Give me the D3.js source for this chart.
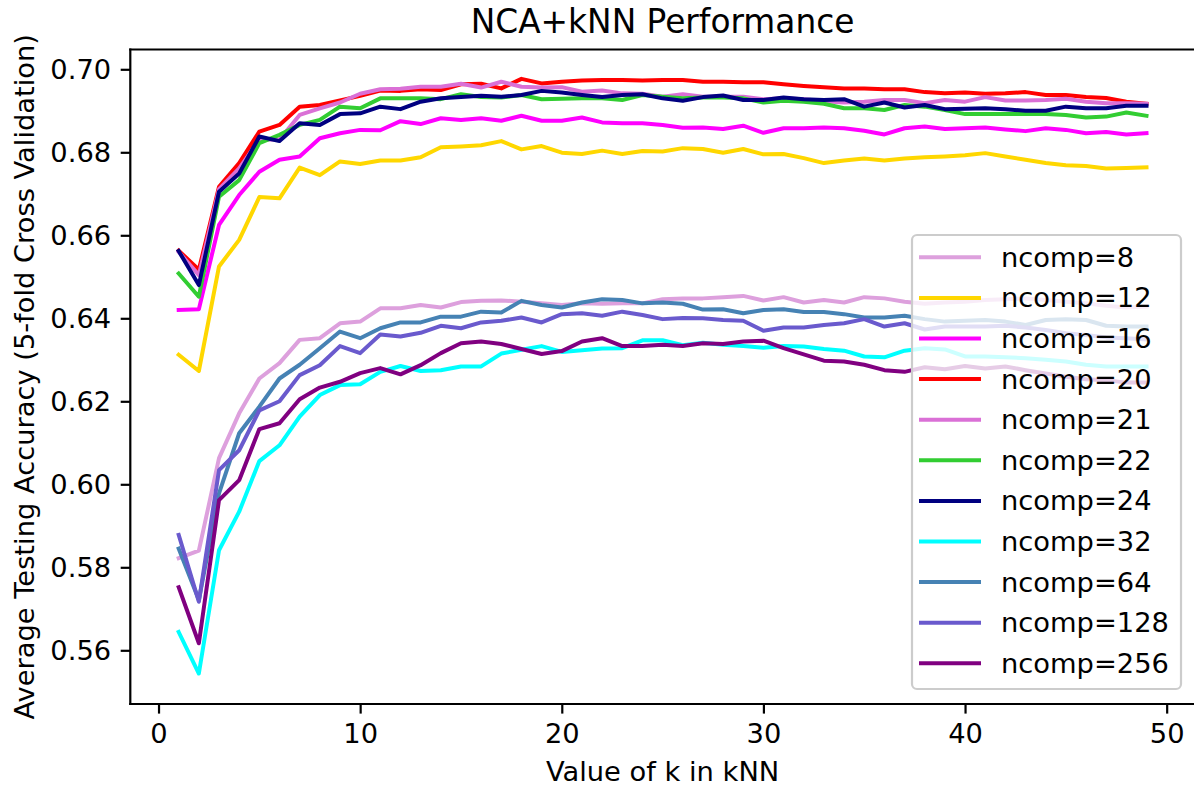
<!DOCTYPE html>
<meta http-equiv="Content-type" content="text/html; charset=UTF-8"/>
<svg width="1194" height="787"></svg>
<script src="https://d3js.org/d3.v7.min.js"></script>
<style>
  body { margin: 0; background: #fff; }
  svg { display: block; }
  text { font-family: 'DejaVu Sans', sans-serif; fill: #000; }
</style>
<script>
// k values on the x axis
var ks = [1,2,3,4,5,6,7,8,9,10,11,12,13,14,15,16,17,18,19,20,21,22,23,24,25,
          26,27,28,29,30,31,32,33,34,35,36,37,38,39,40,41,42,43,44,45,46,47,48,49];

// mean 5-fold CV accuracy, one array per NCA component count
var ncomp8 = [0.5822,0.5840,0.6063,0.6171,0.6255,0.6292,0.6348,0.6352,0.6388,0.6392,
  0.6424,0.6424,0.6432,0.6426,0.6439,0.6442,0.6443,0.6440,0.6436,0.6432,
  0.6436,0.6435,0.6436,0.6436,0.6446,0.6448,0.6448,0.6451,0.6454,0.6443,
  0.6451,0.6438,0.6444,0.6438,0.6451,0.6448,0.6440,0.6435,0.6438,0.6440,
  0.6444,0.6446,0.6448,0.6444,0.6440,0.6436,0.6430,0.6426,0.6428];
var ncomp12 = [0.6312,0.6273,0.6525,0.6589,0.6692,0.6689,0.6763,0.6745,0.6778,0.6772,
  0.6780,0.6780,0.6788,0.6812,0.6814,0.6817,0.6827,0.6807,0.6815,0.6799,
  0.6796,0.6804,0.6796,0.6803,0.6802,0.6810,0.6808,0.6799,0.6808,0.6795,
  0.6796,0.6786,0.6774,0.6780,0.6785,0.6780,0.6785,0.6788,0.6790,0.6793,
  0.6798,0.6790,0.6782,0.6774,0.6769,0.6767,0.6761,0.6762,0.6764];
var ncomp16 = [0.6420,0.6422,0.6625,0.6697,0.6753,0.6782,0.6790,0.6834,0.6846,0.6854,
  0.6853,0.6875,0.6868,0.6882,0.6878,0.6882,0.6876,0.6888,0.6876,0.6876,
  0.6884,0.6872,0.6870,0.6870,0.6866,0.6859,0.6860,0.6856,0.6864,0.6847,
  0.6858,0.6858,0.6860,0.6858,0.6852,0.6843,0.6858,0.6862,0.6856,0.6858,
  0.6860,0.6855,0.6851,0.6858,0.6854,0.6846,0.6849,0.6843,0.6846];
var ncomp20 = [0.6563,0.6517,0.6717,0.6774,0.6850,0.6866,0.6910,0.6914,0.6925,0.6936,
  0.6949,0.6948,0.6952,0.6950,0.6964,0.6965,0.6954,0.6977,0.6966,0.6970,
  0.6973,0.6974,0.6974,0.6973,0.6974,0.6974,0.6970,0.6970,0.6969,0.6969,
  0.6964,0.6960,0.6957,0.6954,0.6954,0.6952,0.6952,0.6945,0.6942,0.6944,
  0.6941,0.6942,0.6945,0.6938,0.6938,0.6933,0.6931,0.6922,0.6917];
var ncomp21 = [0.6560,0.6504,0.6711,0.6761,0.6830,0.6831,0.6890,0.6906,0.6920,0.6941,
  0.6952,0.6953,0.6958,0.6958,0.6965,0.6956,0.6970,0.6958,0.6956,0.6957,
  0.6946,0.6949,0.6942,0.6941,0.6934,0.6940,0.6934,0.6934,0.6934,0.6928,
  0.6930,0.6928,0.6923,0.6920,0.6922,0.6926,0.6926,0.6918,0.6926,0.6922,
  0.6933,0.6925,0.6925,0.6926,0.6929,0.6922,0.6918,0.6918,0.6917];
var ncomp22 = [0.6508,0.6452,0.6693,0.6733,0.6822,0.6842,0.6866,0.6878,0.6910,0.6906,
  0.6930,0.6930,0.6930,0.6928,0.6940,0.6933,0.6932,0.6938,0.6928,0.6929,
  0.6930,0.6930,0.6926,0.6938,0.6934,0.6930,0.6932,0.6932,0.6930,0.6920,
  0.6924,0.6922,0.6917,0.6906,0.6906,0.6902,0.6914,0.6910,0.6902,0.6892,
  0.6892,0.6892,0.6892,0.6892,0.6890,0.6884,0.6886,0.6896,0.6888];
var ncomp24 = [0.6562,0.6480,0.6705,0.6749,0.6838,0.6827,0.6870,0.6866,0.6892,0.6894,
  0.6910,0.6904,0.6922,0.6930,0.6933,0.6936,0.6934,0.6938,0.6948,0.6944,
  0.6938,0.6933,0.6938,0.6940,0.6930,0.6924,0.6933,0.6937,0.6926,0.6926,
  0.6932,0.6928,0.6926,0.6928,0.6910,0.6920,0.6908,0.6914,0.6904,0.6905,
  0.6906,0.6904,0.6900,0.6900,0.6910,0.6906,0.6906,0.6912,0.6912];
var ncomp32 = [0.5644,0.5544,0.5841,0.5934,0.6056,0.6094,0.6163,0.6215,0.6239,0.6241,
  0.6271,0.6285,0.6273,0.6275,0.6284,0.6284,0.6315,0.6324,0.6333,0.6319,
  0.6323,0.6327,0.6328,0.6347,0.6347,0.6335,0.6341,0.6336,0.6333,0.6329,
  0.6333,0.6332,0.6326,0.6322,0.6308,0.6306,0.6322,0.6328,0.6325,0.6308,
  0.6308,0.6306,0.6304,0.6300,0.6296,0.6288,0.6284,0.6284,0.6284];
var ncomp64 = [0.5845,0.5721,0.5978,0.6123,0.6187,0.6255,0.6288,0.6328,0.6368,0.6352,
  0.6376,0.6390,0.6390,0.6404,0.6404,0.6416,0.6414,0.6442,0.6432,0.6426,
  0.6438,0.6446,0.6444,0.6436,0.6438,0.6435,0.6421,0.6422,0.6412,0.6420,
  0.6422,0.6415,0.6415,0.6410,0.6402,0.6402,0.6406,0.6398,0.6392,0.6394,
  0.6396,0.6392,0.6384,0.6396,0.6398,0.6396,0.6382,0.6380,0.6380];
var ncomp128 = [0.5878,0.5717,0.6034,0.6082,0.6178,0.6200,0.6263,0.6287,0.6333,0.6316,
  0.6361,0.6356,0.6365,0.6382,0.6376,0.6390,0.6394,0.6402,0.6390,0.6410,
  0.6412,0.6406,0.6416,0.6408,0.6398,0.6401,0.6400,0.6396,0.6394,0.6370,
  0.6378,0.6378,0.6384,0.6388,0.6398,0.6380,0.6388,0.6373,0.6380,0.6380,
  0.6380,0.6382,0.6378,0.6372,0.6364,0.6360,0.6354,0.6352,0.6349];
var ncomp256 = [0.5752,0.5617,0.5962,0.6010,0.6133,0.6147,0.6205,0.6233,0.6247,0.6268,
  0.6280,0.6265,0.6287,0.6316,0.6340,0.6344,0.6338,0.6326,0.6314,0.6321,
  0.6344,0.6352,0.6333,0.6333,0.6336,0.6333,0.6340,0.6338,0.6344,0.6346,
  0.6328,0.6313,0.6298,0.6296,0.6288,0.6275,0.6271,0.6282,0.6277,0.6285,
  0.6279,0.6284,0.6275,0.6267,0.6259,0.6253,0.6251,0.6245,0.6245];

var seriesLabels = ["ncomp=8","ncomp=12","ncomp=16","ncomp=20","ncomp=21","ncomp=22",
                    "ncomp=24","ncomp=32","ncomp=64","ncomp=128","ncomp=256"];
var seriesValues = [ncomp8, ncomp12, ncomp16, ncomp20, ncomp21, ncomp22,
                    ncomp24, ncomp32, ncomp64, ncomp128, ncomp256];
var seriesColors = ["plum","gold","magenta","red","orchid","limegreen",
                    "navy","cyan","steelblue","slateblue","purple"];

var xTicks = [0, 10, 20, 30, 40, 50];
var yTicks = [0.56, 0.58, 0.60, 0.62, 0.64, 0.66, 0.68, 0.70];

var svg = d3.select("svg"),
    plotL = 130.3, plotR = 1194.9, plotT = 49.5, plotB = 704,
    fs = 27.3, tick = 9.6;

var x = d3.scaleLinear().domain([-1.4, 51.4]).range([plotL, plotR]);
var y = d3.scaleLinear().domain([0.54706, 0.70477]).range([plotB, plotT]);

svg.append("clipPath").attr("id", "plot")
  .append("rect")
    .attr("x", plotL).attr("y", plotT)
    .attr("width", plotR - plotL).attr("height", plotB - plotT);

var line = d3.line()
    .x(function(d, i) { return x(ks[i]); })
    .y(function(d) { return y(d); });

svg.append("g")
    .attr("clip-path", "url(#plot)")
  .selectAll("path")
  .data(seriesValues)
  .join("path")
    .attr("fill", "none")
    .attr("stroke", function(d, i) { return seriesColors[i]; })
    .attr("stroke-width", 4)
    .attr("stroke-linejoin", "round")
    .attr("stroke-linecap", "square")
    .attr("d", line);

// axes
var gx = svg.append("g")
    .attr("transform", "translate(0," + plotB + ")")
    .call(d3.axisBottom(x).tickValues(xTicks).tickFormat(d3.format("d"))
          .tickSize(tick).tickPadding(tick));
var gy = svg.append("g")
    .attr("transform", "translate(" + plotL + ",0)")
    .call(d3.axisLeft(y).tickValues(yTicks).tickFormat(d3.format(".2f"))
          .tickSize(tick).tickPadding(tick));

[gx, gy].forEach(function(g) {
  g.select(".domain").remove();
  g.attr("font-size", fs).attr("font-family", "DejaVu Sans");
  g.selectAll("line").attr("stroke-width", 2.2);
});

// spines (the right one falls outside the cropped figure)
var spines = [[plotL, plotT, plotR, plotT], [plotL, plotB, plotR, plotB],
              [plotL, plotT, plotL, plotB]];
svg.append("g").selectAll("line")
  .data(spines)
  .join("line")
    .attr("x1", function(d) { return d[0]; })
    .attr("y1", function(d) { return d[1]; })
    .attr("x2", function(d) { return d[2]; })
    .attr("y2", function(d) { return d[3]; })
    .attr("stroke", "#000")
    .attr("stroke-width", 2.2)
    .attr("stroke-linecap", "square");

// labels
svg.append("text")
    .attr("x", (plotL + plotR) / 2)
    .attr("y", 33)
    .attr("text-anchor", "middle")
    .style("font-size", "32.8px")
    .text("NCA+kNN Performance");

svg.append("text")
    .attr("x", (plotL + plotR) / 2)
    .attr("y", 781)
    .attr("text-anchor", "middle")
    .style("font-size", fs + "px")
    .text("Value of k in kNN");

svg.append("text")
    .attr("transform", "translate(34," + (plotT + plotB) / 2 + ") rotate(-90)")
    .attr("text-anchor", "middle")
    .style("font-size", fs + "px")
    .text("Average Testing Accuracy (5-fold Cross Validation)");

// legend
var legend = svg.append("g");
legend.append("rect")
    .attr("x", 912).attr("y", 235)
    .attr("width", 269).attr("height", 454)
    .attr("rx", 5)
    .attr("fill", "#fff").attr("fill-opacity", 0.8)
    .attr("stroke", "#cccccc").attr("stroke-width", 2.2);

var rows = legend.selectAll("g.row")
  .data(seriesLabels)
  .join("g")
    .attr("class", "row")
    .attr("transform", function(d, i) { return "translate(0," + (257.3 + i * 40.6) + ")"; });

rows.append("line")
    .attr("x1", 921).attr("x2", 979)
    .attr("stroke", function(d, i) { return seriesColors[i]; })
    .attr("stroke-width", 4)
    .attr("stroke-linecap", "square");

rows.append("text")
    .attr("x", 1001)
    .attr("dy", "0.35em")
    .style("font-size", fs + "px")
    .text(function(d) { return d; });
</script>
